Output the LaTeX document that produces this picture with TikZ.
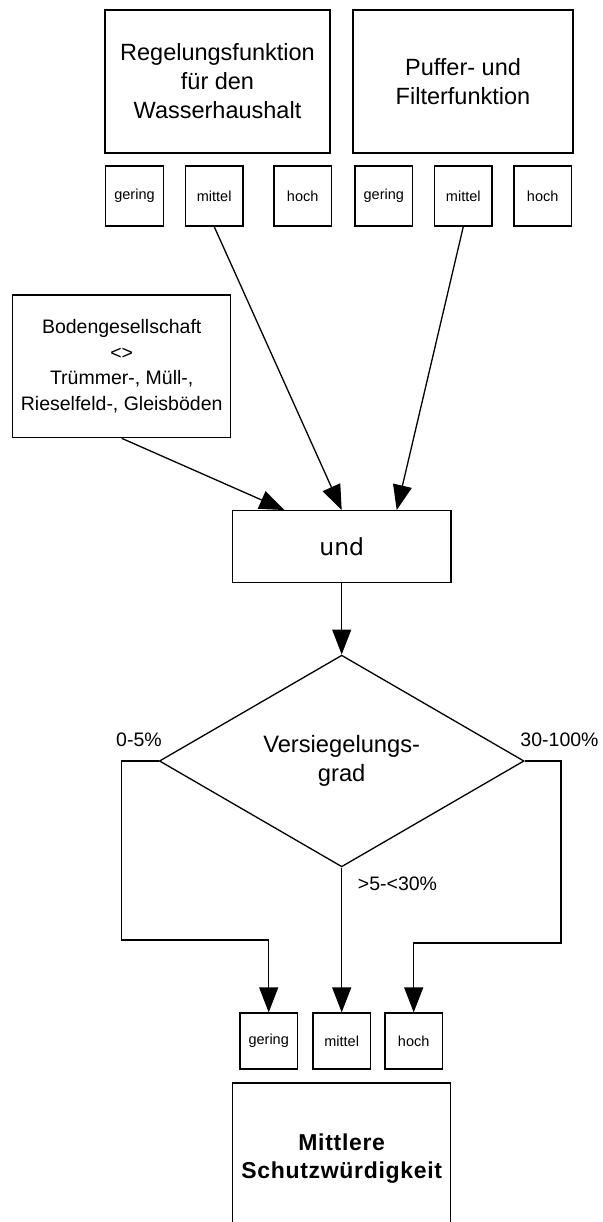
\documentclass[tikz,border=0pt]{standalone}
\usepackage{fontspec}
\setmainfont{Liberation Sans}
\newfontfamily\dejavu{DejaVu Sans}
\usetikzlibrary{arrows.meta,shapes.geometric,calc}

\begin{document}
\begin{tikzpicture}[x=1pt,y=-1pt,line width=1.3pt,
    every node/.style={font=\fontsize{19.5}{25.5}\selectfont},
    kasten/.style={draw,inner sep=0pt,align=center},
    stufe/.style={kasten,minimum width=57.5pt,minimum height=60pt,font=\fontsize{14.5}{17}\selectfont},
    pfeil/.style={-{Triangle[length=25pt,width=19pt]}}]
    \useasboundingbox (0,0) rectangle (602,1222);
    % Oben: die beiden Bodenfunktionen und ihre drei Stufen.
    \node[kasten,minimum width=225pt,minimum height=143pt,font=\fontsize{23.5}{29}\selectfont]
        (regel) at (217.5,81.5) {Regelungsfunktion\\für den\\Wasserhaushalt};
    \node[kasten,minimum width=220pt,minimum height=143pt,font=\fontsize{23.5}{29}\selectfont]
        (puffer) at (463,81.5) {Puffer- und\\Filterfunktion};
    \foreach \xx/\nn/\lab in {134.5/g1/gering,214.2/m1/mittel,302.7/h1/hoch,
                              383.8/g2/gering,463.3/m2/mittel,542.7/h2/hoch} {
        \node[stufe] (\nn) at (\xx,196) {\lab};
    }
    % Links: Bodengesellschaft, dann die Verknuepfung.
    \node[kasten,minimum width=218pt,minimum height=142.7pt] (boden) at (121.7,366.3)
        {Bodengesellschaft\\<>\\Trümmer-, Müll-,\\Rieselfeld-, Gleisböden};
    \node[kasten,minimum width=218.7pt,minimum height=71.6pt,font=\dejavu\fontsize{23.5}{27}\selectfont]
        (und) at (341.7,546.5) {und};
    \draw[pfeil] (m1.south) -- (und.north);
    \draw[pfeil] (m2.south) -- ($(und.north west)!.75!(und.north east)$);
    \draw[pfeil] (boden.south) -- ($(und.north west)!.24!(und.north east)$);
    % Verzweigung nach dem Versiegelungsgrad.
    \node[draw,diamond,aspect=1.72,inner sep=0pt,minimum width=364.7pt,minimum height=211.7pt,
        align=center,font=\fontsize{23.7}{28.5}\selectfont] (grad) at (341.7,761) {Versiegelungs-\\grad};
    \draw[pfeil] (und.south) -- (grad.north);
    \node (lnied) at (139,740) {0-5\%};
    \node (lhoch) at (559.5,740) {30-100\%};
    \node (lmit) at (397.5,884) {>5-<30\%};
    \foreach \xx/\nn/\lab in {268.7/g3/gering,341.7/m3/mittel,413.7/h3/hoch} {
        \node[stufe,minimum height=56pt] (\nn) at (\xx,1041) {\lab};
    }
    \coordinate (knickl) at (121.7,940);
    \coordinate (knickr) at (561,943);
    \draw[pfeil] (grad.west) -| (knickl) -| (g3.north);
    \draw[pfeil] (grad.south) -- (m3.north);
    \draw[pfeil] (grad.east) -| (knickr) -| (h3.north);
    % Ergebnis unten, unterer Rand liegt ausserhalb des Bildes.
    \node[kasten,minimum width=218pt,minimum height=152pt,
        font=\bfseries\addfontfeature{LetterSpace=3}\fontsize{23}{28}\selectfont]
        (schutz) at (341.7,1159) {Mittlere\\Schutzwürdigkeit};
\end{tikzpicture}
\end{document}
